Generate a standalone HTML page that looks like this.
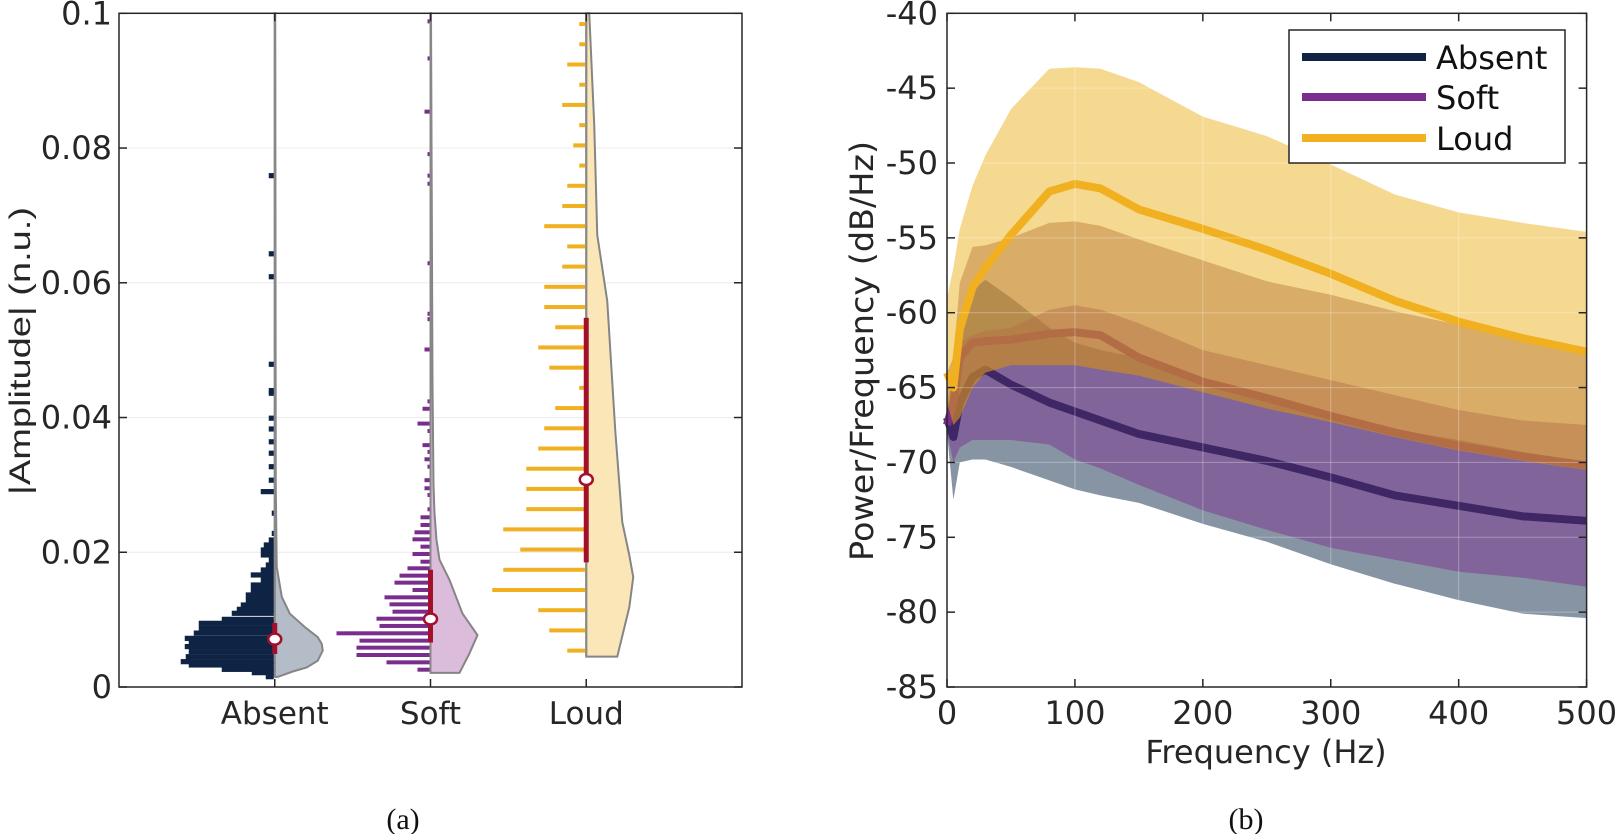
<!DOCTYPE html>
<html><head><meta charset="utf-8"><style>
html,body{margin:0;padding:0;background:#fff;}
svg{display:block;font-family:"DejaVu Sans","Liberation Sans",sans-serif;}
</style></head><body>
<svg id="fig" width="1618" height="834" viewBox="0 0 1618 834" xmlns="http://www.w3.org/2000/svg">
<g id="left"></g>
<g id="right"></g>
<text x="403" y="829" font-family="Liberation Serif, serif" font-size="30" text-anchor="middle" fill="#111">(a)</text>
<text x="1246" y="829" font-family="Liberation Serif, serif" font-size="30" text-anchor="middle" fill="#111">(b)</text>
</svg>
<script>
// ---------- Left panel data ----------
const groups = ["Absent","Soft","Loud"];
const absentBinVals = [.00153,.00213,.00262,.00327,.00376,.0045,.00525,.0060,.00663,.00722,.0080,.00871,.00945,.01004,.01094,.01153,.01217,.01292,.01366,.0144,.01514,.01588,.01663,.01737,.01811,.01885,.0196,.02034,.02108,.02182,.0228,.0258,.029,.0307,.0327,.0347,.0364,.0383,.0399,.0436,.044,.0479,.0609,.0643,.0759];
const absentCounts = [8,22,52,85,93,88,85,89,85,89,80,75,75,52,42,37,33,28,28,23,23,13,23,13,8,5,13,13,10,5,2,2,13,5,5,5,5,5,5,5,5,5,5,5,5];
const softBinVals = [.00257,.00366,.00475,.00584,.00688,.00797,.00906,.01014,.01118,.01227,.01331,.0144,.01549,.01653,.01762,.0186,.01974,.02083,.02192,.02296,.02405,.02519,.02638,.0285,.0295,.0307,.0327,.0338,.0349,.0359,.038,.0391,.0413,.0424,.0501,.0546,.0554,.0629,.0747,.0759,.0791,.0854,.0933,.0988];
const softCounts = [12,43,73,73,70,93,50,53,37,40,45,17,35,30,22,9,17,9,17,15,9,9,2,2,5,5,2,5,2,7,2,12,7,2,5,2,2,2,2,2,2,5,2,2];
const loudBinVals = [.0054,.0084,.0114,.0144,.0174,.0204,.0234,.0264,.0294,.0324,.0354,.0384,.0414,.0444,.0474,.0504,.0534,.0564,.0594,.0624,.0654,.0684,.0714,.0744,.0774,.0804,.0834,.0864,.0894,.0924,.0954,.0984];
const loudCounts = [18,36,47,93,82,65,82,59,59,59,47,41,30,6,36,47,30,41,41,23,18,41,23,18,6,12,6,23,6,18,6,6];
const absentKdeV = [.0015,.0023,.0029,.0039,.0054,.0064,.0074,.0089,.0109,.0134,.0178,.03,.1];
const absentKdeW = [3,18,32,43,48,47,43,30,15,7,2,1,0.5];
const softKdeV = [.0021,.005,.0077,.0109,.0159,.0189,.0218,.0258,.03,.045,.1];
const softKdeW = [29,39,47,32,19,9,6,4,3,2,0.5];
const loudKdeV = [.0045,.0118,.0163,.0196,.0245,.0381,.0573,.0671,.0834,.1];
const loudKdeW = [31,43,47,43,36,29,21,11,8,3];
const medians = [.0071,.0101,.0308];
const q1 = [.0049,.0066,.0185];
const q3 = [.0095,.0174,.0548];
const yTicksL = [0,0.02,0.04,0.06,0.08,0.1];
const yTickLabelsL = ["0","0.02","0.04","0.06","0.08","0.1"];

// ---------- Right panel data ----------
const freqs = [0,5,10,20,30,50,80,100,120,150,200,250,300,350,400,450,500];
const absentMean = [-67,-68.3,-66,-64.3,-63.8,-64.8,-66,-66.6,-67.2,-68.1,-69,-69.9,-71,-72.2,-72.9,-73.6,-73.9];
const absentUpper = [-66,-66,-61,-58.5,-57.8,-59,-61,-62,-62.5,-63,-64.5,-65.8,-67,-67.8,-68.5,-69.3,-70];
const absentLower = [-68,-72.5,-70,-69.8,-69.8,-70.3,-71.2,-71.8,-72.2,-72.7,-74.1,-75.3,-76.8,-78.1,-79.2,-80.1,-80.4];
const softMean = [-67.5,-66,-63,-62,-61.9,-61.8,-61.4,-61.3,-61.5,-63,-64.6,-65.7,-66.9,-68,-68.9,-69.6,-70.2];
const softUpper = [-66,-64,-62,-61.5,-61.2,-61,-59.8,-59.5,-59.8,-60.7,-62.5,-63.5,-64.5,-65.5,-66.5,-67.2,-67.5];
const softLower = [-68,-70,-69,-68.5,-68.5,-68.5,-68.8,-69.8,-70.4,-71.5,-73.2,-74.5,-75.7,-76.5,-77.3,-77.7,-78.3];
const loudMean = [-64,-65,-61.1,-58.3,-57,-54.8,-51.9,-51.4,-51.7,-53.1,-54.4,-55.8,-57.4,-59.2,-60.6,-61.7,-62.6];
const loudUpper = [-59,-57,-54.4,-51.5,-49.5,-46.4,-43.7,-43.6,-43.7,-44.6,-46.9,-48.2,-50.1,-52.1,-53.3,-54,-54.6];
const loudInnerUpper = [-64,-63,-58,-55.6,-55.5,-55,-54,-53.9,-54.2,-55.1,-56.5,-57.9,-58.8,-59.9,-60.8,-61.8,-62.5];
const loudLower = [-66,-67.5,-67,-65,-64,-63.5,-63.5,-63.5,-63.8,-64.2,-65.3,-66.4,-67.3,-68.3,-69.2,-69.9,-70.5];
const xTicksR = [0,100,200,300,400,500];
const yTicksR = [-85,-80,-75,-70,-65,-60,-55,-50,-45,-40];

const NS="http://www.w3.org/2000/svg";
function mk(parent,tag,attrs){const e=document.createElementNS(NS,tag);for(const k in attrs)e.setAttribute(k,attrs[k]);parent.appendChild(e);return e;}

// ---------- Left panel ----------
const L=document.getElementById('left');
const LX0=119,LX1=742,TOP=13.3,BOT=687;
const lx=v=>LX0+(v)*(LX1-LX0)/4;
const ly=v=>BOT-(v/0.1)*(BOT-TOP);
const cntScale=1;
const barCols=["#0f2444","#7b2d8e","#f0b020"];
const kdeFill=["#b4bcc8","#dbbcdb","#fbe6b8"];
const binData=[[absentBinVals,absentCounts,5.2],[softBinVals,softCounts,4],[loudBinVals,loudCounts,4]];
const kdeData=[[absentKdeV,absentKdeW],[softKdeV,softKdeW],[loudKdeV,loudKdeW]];
yTicksL.forEach(t=>{const g=mk(L,'line',{x1:LX0,x2:LX1,y1:ly(t),y2:ly(t),stroke:'#ececec','stroke-width':1});

});
groups.forEach((gname,i)=>{
  const cx=lx(i+1);
  const gg=mk(L,'g',{});
  
  
  const [kv,kw]=kdeData[i];
  let d=`M${cx},${ly(kv[0])}`;
  kv.forEach((v,j)=>{d+=` L${cx+kw[j]},${ly(v)}`;});
  d+=` L${cx},${ly(kv[kv.length-1])} Z`;
  const p=mk(gg,'path',{d:d,fill:kdeFill[i],stroke:'#858585','stroke-width':2});
  
  
  const cl=mk(gg,'line',{x1:cx,x2:cx,y1:ly(kv[0]),y2:TOP,stroke:'#888','stroke-width':2});
  
  
  const [bv,bc,th]=binData[i];
  bv.forEach((v,j)=>{
    const w=bc[j]*cntScale;
    const r=mk(gg,'rect',{x:cx-w-1,y:ly(v)-th/2,width:w,height:th,fill:barCols[i]});
    
    
  });
  const iq=mk(gg,'rect',{x:cx-2.5,y:ly(q3[i]),width:5,height:ly(q1[i])-ly(q3[i]),fill:'#a3102c'});
  
  
  const md=mk(gg,'ellipse',{cx:cx,cy:ly(medians[i]),rx:6.5,ry:5.5,fill:'#fff',stroke:'#a3102c','stroke-width':2.5});
  
  
  const tl=mk(L,'text',{x:cx,y:724,'font-size':31,'text-anchor':'middle',fill:'#262626'});
  tl.textContent=gname;
  
  
  [[BOT,BOT-8],[TOP,TOP+8]].forEach(([a,b])=>{const t=mk(L,'line',{x1:cx,x2:cx,y1:a,y2:b,stroke:'#262626','stroke-width':1.5});
  
  });
});
const fr=mk(L,'rect',{x:LX0,y:TOP,width:LX1-LX0,height:BOT-TOP,fill:'none',stroke:'#262626','stroke-width':1.5});


yTicksL.forEach((t,j)=>{
  const y=ly(t);
  const a=mk(L,'line',{x1:LX0,x2:LX0+8,y1:y,y2:y,stroke:'#262626','stroke-width':1.5});
  
  
  const b=mk(L,'line',{x1:LX1,x2:LX1-8,y1:y,y2:y,stroke:'#262626','stroke-width':1.5});
  
  
  const tx=mk(L,'text',{x:112,y:y+11,'font-size':32,'text-anchor':'end',fill:'#262626'});
  tx.textContent=yTickLabelsL[j];
  
  
});
const yl=mk(L,'text',{x:0,y:0,'font-size':30,'text-anchor':'middle',fill:'#262626',transform:'translate(30,351) rotate(-90)',textLength:288,lengthAdjust:'spacingAndGlyphs','font-family':'Liberation Sans, sans-serif'});
yl.textContent='|Amplitude| (n.u.)';



// ---------- Right panel ----------
const R=document.getElementById('right');
const RX0=947,RX1=1586.6;
const rx=f=>RX0+f*(RX1-RX0)/500;
const ry=v=>TOP+(-40-v)*(BOT-TOP)/45;
function band(up,lo,fill,op,name){
  let d='M'+freqs.map((f,j)=>rx(f)+','+ry(up[j])).join(' L');
  d+=' L'+freqs.slice().reverse().map((f,j)=>rx(f)+','+ry(lo[lo.length-1-j])).join(' L')+' Z';
  const p=mk(R,'path',{d:d,fill:fill,'fill-opacity':op});
  
  
}
function line(vals,col,name){
  const p=mk(R,'polyline',{points:freqs.map((f,j)=>rx(f)+','+ry(vals[j])).join(' '),fill:'none',stroke:col,'stroke-width':8,'stroke-linejoin':'round'});
  
  
}
band(absentUpper,absentLower,'#0f2a4a',0.5,'absent-band');
line(absentMean,'#0f2444','absent-mean-line');
band(softUpper,softLower,'#7b2d8e',0.45,'soft-band');
line(softMean,'#7b2d8e','soft-mean-line');
band(loudUpper,loudLower,'#eeb422',0.5,'loud-band');
band(loudInnerUpper,loudLower,'#b06a2a',0.4,'loud-inner-band');
line(loudMean,'#f0b020','loud-mean-line');
xTicksR.forEach(t=>{const g=mk(R,'line',{x1:rx(t),x2:rx(t),y1:TOP,y2:BOT,stroke:'#fff','stroke-opacity':0.3,'stroke-width':1});

});
yTicksR.forEach(t=>{const g=mk(R,'line',{x1:RX0,x2:RX1,y1:ry(t),y2:ry(t),stroke:'#fff','stroke-opacity':0.3,'stroke-width':1});

});
const fr2=mk(R,'rect',{x:RX0,y:TOP,width:RX1-RX0,height:BOT-TOP,fill:'none',stroke:'#262626','stroke-width':1.5});


xTicksR.forEach(t=>{
  const x=rx(t);
  const a=mk(R,'line',{x1:x,x2:x,y1:BOT,y2:BOT-8,stroke:'#262626','stroke-width':1.5});
  
  
  const b=mk(R,'line',{x1:x,x2:x,y1:TOP,y2:TOP+8,stroke:'#262626','stroke-width':1.5});
  
  
  const tx=mk(R,'text',{x:x,y:724,'font-size':32,'text-anchor':'middle',fill:'#262626'});
  tx.textContent=String(t);
  
  
});
yTicksR.forEach(t=>{
  const y=ry(t);
  const a=mk(R,'line',{x1:RX0,x2:RX0+8,y1:y,y2:y,stroke:'#262626','stroke-width':1.5});
  
  
  const b=mk(R,'line',{x1:RX1,x2:RX1-8,y1:y,y2:y,stroke:'#262626','stroke-width':1.5});
  
  
  const tx=mk(R,'text',{x:938,y:y+11,'font-size':32,'text-anchor':'end',fill:'#262626'});
  tx.textContent=String(t);
  
  
});
const xt=mk(R,'text',{x:1266,y:763,'font-size':32,'text-anchor':'middle',fill:'#262626'});
xt.textContent='Frequency (Hz)';


const yt=mk(R,'text',{x:0,y:0,'font-size':32,'text-anchor':'middle',fill:'#262626',transform:'translate(873,351) rotate(-90)',textLength:420,lengthAdjust:'spacingAndGlyphs'});
yt.textContent='Power/Frequency (dB/Hz)';


const lg=mk(R,'g',{});


const lb=mk(lg,'rect',{x:1289,y:30,width:276,height:133,fill:'#fff',stroke:'#262626','stroke-width':1.5});


const legCols=['#0f2444','#7b2d8e','#f0b020'];
const legY=[57,97,138];
groups.forEach((g,i)=>{
  const l=mk(lg,'line',{x1:1302,x2:1426,y1:legY[i],y2:legY[i],stroke:legCols[i],'stroke-width':8});
  
  
  const t=mk(lg,'text',{x:1436,y:legY[i]+12,'font-size':32,fill:'#111'});
  t.textContent=g;
  
  
});
</script>
</body></html>
